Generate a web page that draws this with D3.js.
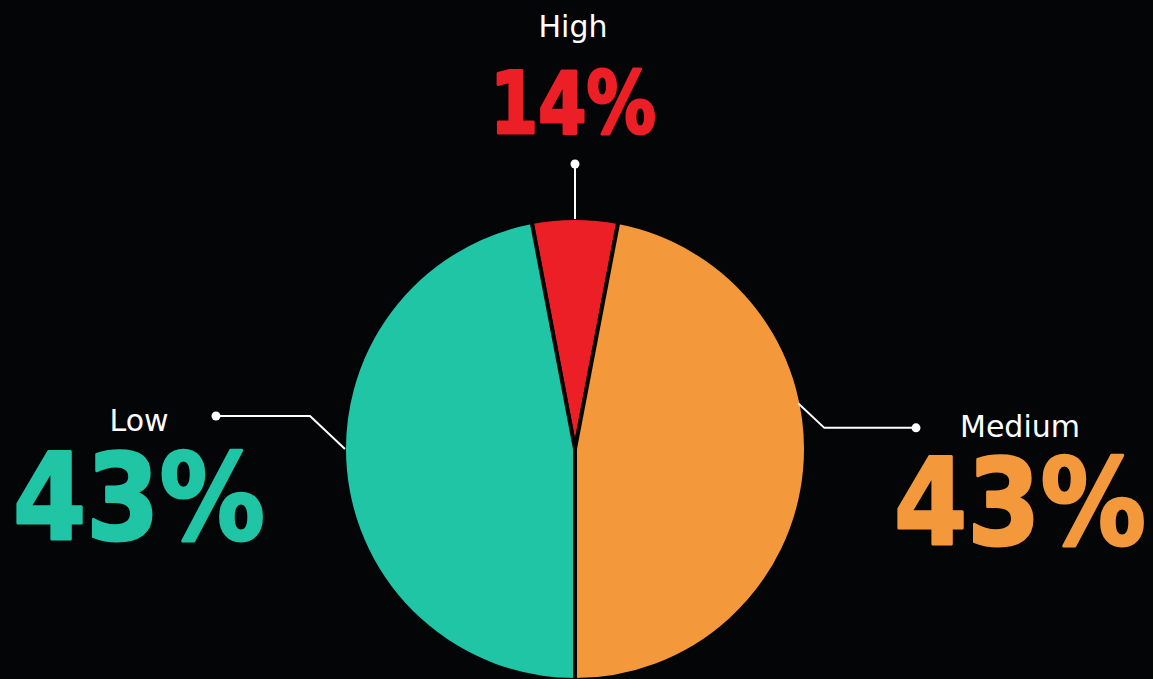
<!DOCTYPE html>
<html>
<head>
<meta charset="utf-8">
<script src="https://cdn.jsdelivr.net/npm/d3@7"></script>
<style>
  html, body { margin: 0; padding: 0; background: #040507; }
  svg { display: block; }
</style>
</head>
<body>
<svg id="chart" width="1153" height="679"></svg>
<script>
// categories and values
const categories = ['High', 'Medium', 'Low']
// share of the circle each slice takes as drawn
const sliceShares = [6, 47, 47]
// the percentages printed on the labels
const labelPercents = [14, 43, 43]
const colors = ['#ec1f27', '#f3993c', '#1fc5a5']

const width = 1153
const height = 679
const cx = 575
const cy = 449
const radius = 231

const svg = d3.select('#chart')
svg.append('rect').attr('width', width).attr('height', height).attr('fill', '#040507')

// Center the small High slice on the top of the circle
const total = d3.sum(sliceShares)
const halfHigh = Math.PI * sliceShares[0] / total
const pie = d3.pie()
  .sort(null)
  .startAngle(-halfHigh)
  .endAngle(2 * Math.PI - halfHigh)

const arc = d3.arc().innerRadius(0).outerRadius(radius)

const arcs = pie(sliceShares)

const g = svg.append('g').attr('transform', `translate(${cx},${cy})`)

g.selectAll('path')
  .data(arcs)
  .join('path')
  .attr('d', arc)
  .attr('fill', (d, i) => colors[i])
  .attr('stroke', '#040507')
  .attr('stroke-width', 4)
  .attr('stroke-linejoin', 'round')

// point on the rim at a given angle (0 = top, clockwise)
const rim = (a, r) => [Math.sin(a) * r, -Math.cos(a) * r]

// leader lines: High goes straight up, Medium and Low go out then across
const highA = (arcs[0].startAngle + arcs[0].endAngle) / 2
const medA = arcs[1].startAngle + (arcs[1].endAngle - arcs[1].startAngle) * 0.4
const lowA = 1.5 * Math.PI

const medP = rim(medA, radius)
const lowP = rim(lowA, radius)
const leaders = [
  [rim(highA, radius - 1), rim(highA, radius + 54)],
  [rim(medA, radius - 3), [medP[0] + 23, medP[1] + 25], [341, medP[1] + 25]],
  [rim(lowA, radius - 1), [lowP[0] - 34, lowP[1] - 33], [-359, lowP[1] - 33]]
]

const line = d3.line()
leaders.forEach(pts => {
  g.append('path')
    .attr('d', line(pts))
    .attr('fill', 'none')
    .attr('stroke', '#ffffff')
    .attr('stroke-width', 2)
  const end = pts[pts.length - 1]
  g.append('circle')
    .attr('cx', end[0])
    .attr('cy', end[1])
    .attr('r', 4.5)
    .attr('fill', '#ffffff')
})

// label positions (centre x, name baseline, value baseline)
const labelPos = [
  { x: 573, nameY: 37, valY: 133, nameSize: 30, valSize: 86, valLen: 166 },
  { x: 1020, nameY: 437, valY: 544, nameSize: 30, valSize: 120, valLen: 252 },
  { x: 139, nameY: 431, valY: 539, nameSize: 30, valSize: 120, valLen: 252 }
]

const labels = svg.selectAll('g.label')
  .data(categories)
  .join('g')
  .attr('class', 'label')

labels.append('text')
  .attr('x', (d, i) => labelPos[i].x)
  .attr('y', (d, i) => labelPos[i].nameY)
  .attr('text-anchor', 'middle')
  .attr('fill', '#ffffff')
  .style('font-family', '"DejaVu Sans", sans-serif')
  .style('font-size', (d, i) => labelPos[i].nameSize + 'px')
  .text(d => d)

labels.append('text')
  .attr('x', (d, i) => labelPos[i].x)
  .attr('y', (d, i) => labelPos[i].valY)
  .attr('text-anchor', 'middle')
  .attr('fill', (d, i) => colors[i])
  .attr('stroke', (d, i) => colors[i])
  .attr('stroke-width', 3)
  .attr('stroke-linejoin', 'round')
  .attr('textLength', (d, i) => labelPos[i].valLen)
  .attr('lengthAdjust', 'spacingAndGlyphs')
  .style('font-family', '"DejaVu Sans", sans-serif')
  .style('font-weight', 'bold')
  .style('font-size', (d, i) => labelPos[i].valSize + 'px')
  .text((d, i) => labelPercents[i] + '%')
</script>
</body>
</html>
